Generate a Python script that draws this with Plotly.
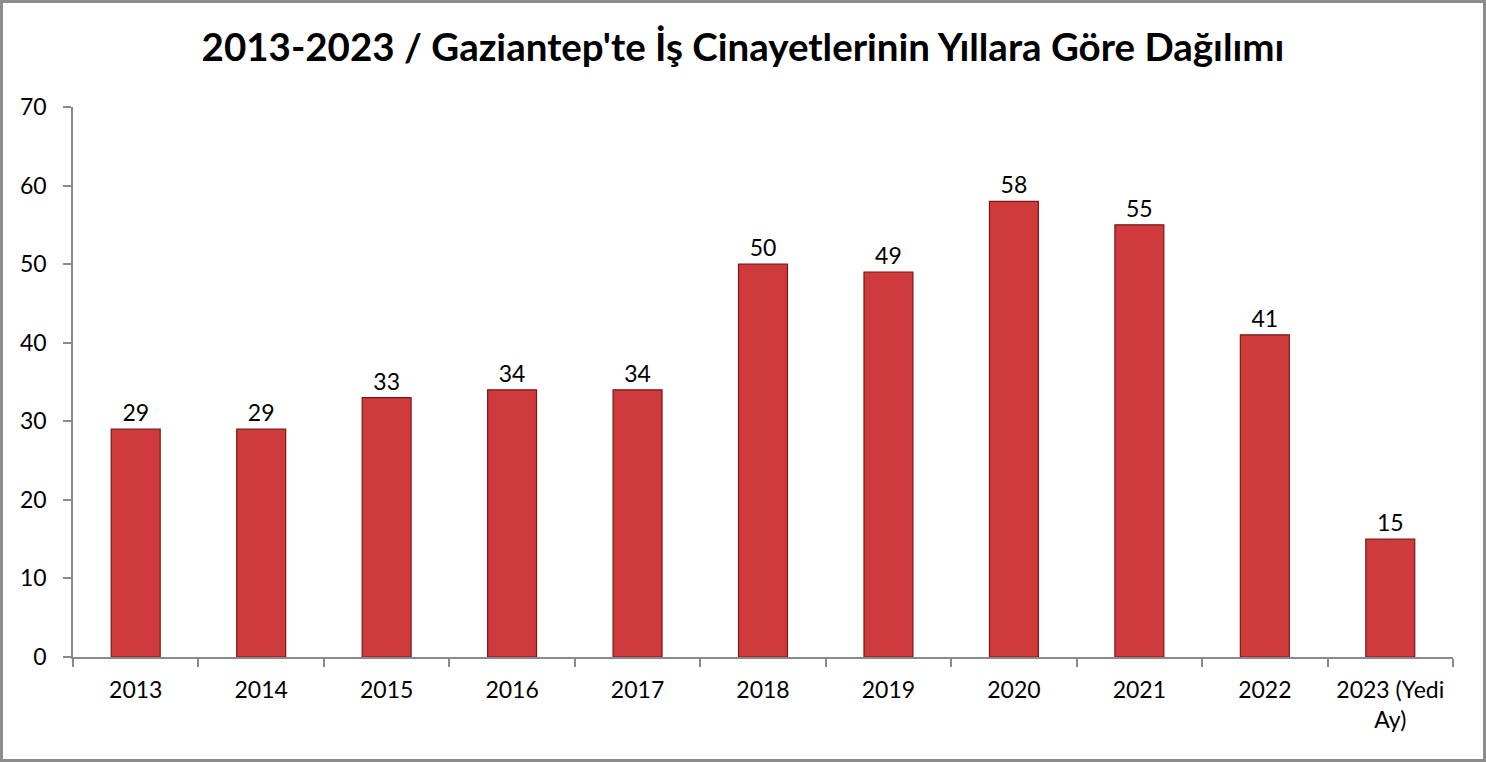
import plotly.graph_objects as go

years = ["2013", "2014", "2015", "2016", "2017", "2018", "2019", "2020", "2021", "2022", "2023 (Yedi<br>Ay)"]
deaths = [29, 29, 33, 34, 34, 50, 49, 58, 55, 41, 15]
y_ticks = [0, 10, 20, 30, 40, 50, 60, 70]

W, H = 1486, 762
ml, mr, mt, mb = 73, 33, 107, 105
pw, ph = W - ml - mr, H - mt - mb

font = "Lato, Open Sans, sans-serif"

fig = go.Figure()
fig.add_trace(go.Bar(
    x=years, y=deaths,
    marker=dict(color="#cf3b3c", line=dict(color="#7a1616", width=1.2)),
    text=deaths, textposition="outside", cliponaxis=False,
    textfont=dict(size=23, color="black", family=font),
    width=0.39,
))

fig.update_layout(
    width=W, height=H,
    margin=dict(l=ml, r=mr, t=mt, b=mb),
    paper_bgcolor="white", plot_bgcolor="white",
    showlegend=False,
    font=dict(family=font, size=23, color="black"),
    title=dict(text="<b>2013-2023 / Gaziantep'te İş Cinayetlerinin Yıllara Göre Dağılımı</b>",
               x=0.5, xanchor="center", y=0.938, yanchor="middle",
               font=dict(size=38.5, family=font, color="black")),
)
fig.update_yaxes(range=[0, 70], tickvals=y_ticks, showgrid=False, zeroline=False,
                 showline=True, linecolor="#8a8a8a", linewidth=1.5,
                 ticks="outside", ticklen=8, tickcolor="#8a8a8a", tickwidth=1.5,
                 tickfont=dict(size=23), ticklabelstandoff=12)
fig.update_xaxes(showgrid=False, showline=True, linecolor="#8a8a8a", linewidth=1.5,
                 ticks="outside", tickson="boundaries", ticklen=8, tickcolor="#8a8a8a",
                 tickwidth=1.5, tickfont=dict(size=23), tickangle=0, ticklabelstandoff=12)

# outer border of the chart
fig.add_shape(type="rect", xref="paper", yref="paper",
              x0=(1.5 - ml) / pw, x1=(W - 1.5 - ml) / pw,
              y0=(mt + ph - (H - 1.5)) / ph, y1=(mt + ph - 1.5) / ph,
              line=dict(color="#8c8c8c", width=3), layer="below")

fig.write_html("out.html", config={"displayModeBar": False},
               post_script="document.body.style.margin='0';")
